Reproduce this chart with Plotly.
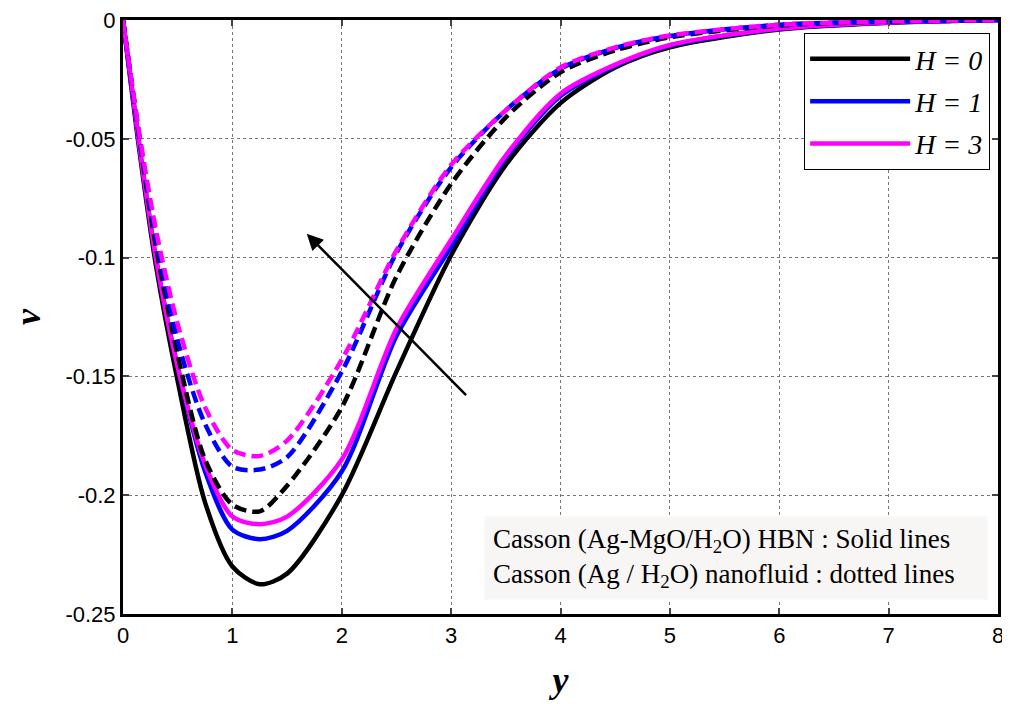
import plotly.graph_objects as go

# eta values (shared grid for all curves)
y_pts = [0, 0.15, 0.3, 0.5, 0.75, 1.0, 1.25, 1.5, 2.0, 2.5, 3.0, 3.5, 4.0, 4.5, 5.0, 6.0, 7.0, 8.0]

# Casson (Ag-MgO/H2O) HBN : solid lines
hbn_h0 = [0, -0.055, -0.103, -0.152, -0.203, -0.230, -0.2375, -0.233, -0.200, -0.148, -0.099, -0.061, -0.035, -0.020, -0.0115, -0.004, -0.0012, 0]
hbn_h1 = [0, -0.053, -0.100, -0.146, -0.190, -0.2145, -0.2185, -0.215, -0.190, -0.133, -0.0954, -0.058, -0.032, -0.0192, -0.0108, -0.0037, -0.001, 0]
hbn_h3 = [0, -0.053, -0.100, -0.146, -0.187, -0.209, -0.2122, -0.209, -0.185, -0.130, -0.0925, -0.057, -0.031, -0.0188, -0.0105, -0.0036, -0.001, 0]

# Casson (Ag / H2O) nanofluid : dotted lines
nf_h0 = [0, -0.050, -0.095, -0.141, -0.185, -0.204, -0.2068, -0.196, -0.163, -0.108, -0.069, -0.041, -0.022, -0.0128, -0.0073, -0.0023, -0.0007, 0]
nf_h1 = [0, -0.049, -0.091, -0.135, -0.170, -0.188, -0.1892, -0.184, -0.148, -0.098, -0.062, -0.038, -0.0205, -0.0118, -0.0067, -0.002, -0.0006, 0]
nf_h3 = [0, -0.048, -0.088, -0.128, -0.163, -0.181, -0.1835, -0.177, -0.143, -0.097, -0.061, -0.038, -0.020, -0.0115, -0.0065, -0.002, -0.0006, 0]

labels = ["H = 0", "H = 1", "H = 3"]
colors = ["black", "blue", "magenta"]

x_ticks = [0, 1, 2, 3, 4, 5, 6, 7, 8]
y_ticks = [0, -0.05, -0.1, -0.15, -0.2, -0.25]
y_tick_text = ["0", "-0.05", "-0.1", "-0.15", "-0.2", "-0.25"]

fig = go.Figure()

for vals, name, c in zip([hbn_h0, hbn_h1, hbn_h3], labels, colors):
    fig.add_trace(go.Scatter(x=y_pts, y=vals, mode="lines", name="<i>" + name + "</i>", legendgroup=name,
                             line=dict(color=c, width=4.5, shape="spline", smoothing=0.8)))

for vals, name, c in zip([nf_h0, nf_h1, nf_h3], labels, colors):
    fig.add_trace(go.Scatter(x=y_pts, y=vals, mode="lines", name=name, showlegend=False,
                             line=dict(color=c, width=4.5, dash="12px,6px", shape="spline", smoothing=0.8)))

# arrow showing increasing H
fig.add_annotation(x=1.68, y=-0.090, ax=3.15, ay=-0.1585, xref="x", yref="y", axref="x", ayref="y",
                   text="", showarrow=True, arrowhead=2, arrowsize=1.3, arrowwidth=2.5, arrowcolor="black")

fig.add_annotation(
    text="Casson (Ag-MgO/H<sub>2</sub>O) HBN : Solid lines<br>Casson (Ag / H<sub>2</sub>O) nanofluid : dotted lines",
    xref="paper", yref="paper", x=0.9886, y=0.024, xanchor="right", yanchor="bottom",
    width=486, height=66, showarrow=False, align="left", bgcolor="#f8f5f5", borderpad=8,
    font=dict(family="Liberation Serif", size=27, color="black"))

# page body adds an 8px offset, so the figure is sized 8px smaller
fig.update_layout(
    width=1002, height=696,
    margin=dict(l=115, r=12, t=12, b=90),
    paper_bgcolor="white", plot_bgcolor="white",
    font=dict(family="Liberation Sans", size=22, color="black"),
    legend=dict(x=0.991, y=0.978, xanchor="right", yanchor="top", bgcolor="white",
                bordercolor="black", borderwidth=1, font=dict(family="Liberation Serif", size=28),
                itemwidth=100, tracegroupgap=3),
    xaxis=dict(range=[0, 8], tickvals=x_ticks, ticks="inside", ticklen=6, tickwidth=2,
               showline=True, linewidth=3, linecolor="black", mirror="ticks", automargin=False,
               ticklabeloverflow="allow",
               showgrid=True, gridcolor="#777", griddash="dot", gridwidth=1, zeroline=False,
               title=dict(text="<b><i>y</i></b>", font=dict(family="Liberation Serif", size=36), standoff=20)),
    yaxis=dict(range=[-0.25, 0], tickvals=y_ticks, ticktext=y_tick_text, ticks="inside", ticklen=6, tickwidth=2,
               showline=True, linewidth=3, linecolor="black", mirror="ticks", automargin=False,
               ticklabeloverflow="allow",
               showgrid=True, gridcolor="#777", griddash="dot", gridwidth=1, zeroline=False,
               title=dict(text="<b><i>v</i></b>", font=dict(family="Liberation Serif", size=36), standoff=42)),
)

fig.write_html("out.html")
